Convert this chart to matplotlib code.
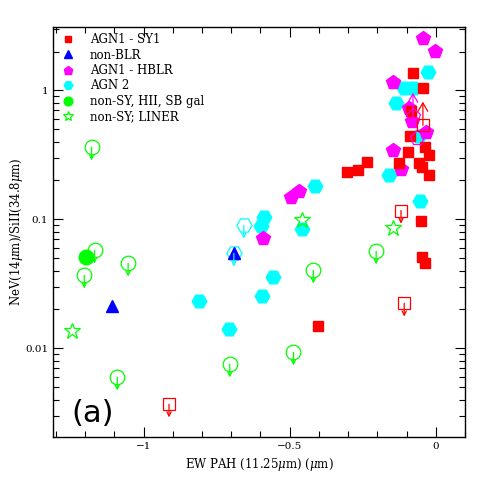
import numpy as np
import matplotlib
matplotlib.use("Agg")
import matplotlib.pyplot as plt
from matplotlib.ticker import FixedLocator, MultipleLocator, LogLocator, NullFormatter

plt.rcParams["font.family"] = ["DejaVu Serif"]
plt.rcParams["mathtext.fontset"] = "dejavuserif"

# AGN1 - SY1 (filled red squares)
sy1_x = [-0.078, -0.044, -0.085, -0.088, -0.094, -0.037, -0.023, -0.126, -0.058,
         -0.047, -0.023, -0.236, -0.266, -0.303, -0.051, -0.047, -0.037, -0.402]
sy1_y = [1.355, 1.04, 0.687, 0.44, 0.33, 0.363, 0.313, 0.272, 0.272,
         0.253, 0.219, 0.277, 0.240, 0.231, 0.0965, 0.0507, 0.0456, 0.0148]
# SY1 upper limits (open squares, arrow down) and lower limit (arrow up)
sy1_ul_x = [-0.119, -0.108, -0.913]
sy1_ul_y = [0.117, 0.0223, 0.00368]
sy1_ll_x = [-0.044]
sy1_ll_y = [0.536]

# non-BLR (blue triangles)
nblr_x = [-1.107, -0.691]
nblr_y = [0.0212, 0.0545]

# AGN1 - HBLR (magenta pentagons)
hblr_x = [-0.044, -0.003, -0.146, -0.092, -0.082, -0.033, -0.146, -0.119,
          -0.467, -0.497, -0.592]
hblr_y = [2.57, 2.01, 1.17, 0.725, 0.575, 0.473, 0.344, 0.244,
          0.165, 0.148, 0.0712]
hblr_ll_x = [-0.078]
hblr_ll_y = [0.629]
hblr_open_x = [-0.065]
hblr_open_y = [0.425]

# AGN 2 (cyan hexagons)
agn2_x = [-0.027, -0.109, -0.078, -0.136, -0.058, -0.160, -0.412, -0.054,
          -0.589, -0.599, -0.457, -0.558, -0.596, -0.811, -0.708]
agn2_y = [1.40, 1.05, 1.05, 0.794, 0.44, 0.219, 0.180, 0.138,
          0.1036, 0.0883, 0.0837, 0.0355, 0.0253, 0.0231, 0.0140]
agn2_ul_x = [-0.657, -0.691]
agn2_ul_y = [0.0898, 0.0545]

# non-SY, HII, SB gal (green circles)
hii_x = [-1.198]
hii_y = [0.0507]
hii_ul_x = [-1.178, -1.168, -1.203, -1.053, -1.090, -0.705, -0.487, -0.419, -0.204]
hii_ul_y = [0.362, 0.0575, 0.0368, 0.0456, 0.00596, 0.00752, 0.00931, 0.0402, 0.0565]

# non-SY; LINER (open green stars)
lin_x = [-1.246, -0.457, -0.146]
lin_y = [0.01355, 0.0982, 0.0851]

RED, BLUE, MAG, CYAN, GREEN = "#ff0000", "#0000ff", "#ff00ff", "#00ffff", "#00ff00"

fig = plt.figure(figsize=(4.91, 4.91), dpi=100)
ax = fig.add_axes([0.108, 0.110, 0.839, 0.835])


def limit_arrows(xs, ys, color, length, head=(0.3, 0.15), lw=0.9):
    # arrows start at the marker centre; positive length points up
    for x, y in zip(xs, ys):
        ax.annotate("", xy=(x, y), xytext=(0, length), textcoords="offset points",
                    arrowprops=dict(arrowstyle="<-, head_length=%g, head_width=%g" % head,
                                    color=color, lw=lw, shrinkA=0, shrinkB=0))


# open (limit) symbols
ax.plot(hii_ul_x, hii_ul_y, "o", ms=10.5, mfc="none", mec=GREEN, mew=0.9, ls="none")
limit_arrows(hii_ul_x, hii_ul_y, GREEN, -9.5)
ax.plot(agn2_ul_x, agn2_ul_y, "H", ms=11, mfc="none", mec=CYAN, mew=0.9, ls="none")
limit_arrows(agn2_ul_x, agn2_ul_y, CYAN, -9.5)
ax.plot(sy1_ul_x, sy1_ul_y, "s", ms=8.5, mfc="none", mec=RED, mew=0.9, ls="none")
limit_arrows(sy1_ul_x, sy1_ul_y, RED, -9.5)

# filled symbols
ax.plot(agn2_x, agn2_y, "H", ms=10.5, color=CYAN, ls="none", label="AGN 2")
ax.plot(hblr_x, hblr_y, "p", ms=10.5, color=MAG, ls="none", label="AGN1 - HBLR")
ax.plot(sy1_x, sy1_y, "s", ms=7.8, color=RED, ls="none", label="AGN1 - SY1")
ax.plot(nblr_x, nblr_y, "^", ms=8.5, color=BLUE, ls="none", label="non-BLR")
ax.plot(hii_x, hii_y, "o", ms=10.5, color=GREEN, ls="none", label="non-SY, HII, SB gal")
ax.plot(lin_x, lin_y, "*", ms=12, mfc="none", mec=GREEN, mew=0.9, ls="none",
        label="non-SY; LINER")

# lower limits in the crowded corner
ax.plot(hblr_ll_x + hblr_open_x, hblr_ll_y + hblr_open_y, "p", ms=11, mfc="none",
        mec=MAG, mew=0.9, ls="none")
limit_arrows(hblr_ll_x, hblr_ll_y, MAG, 17, head=(0.6, 0.35))
ax.plot(sy1_ll_x, sy1_ll_y, "s", ms=8.5, mfc="none", mec=RED, mew=0.9, ls="none")
limit_arrows(sy1_ll_x, sy1_ll_y, RED, 17, head=(0.6, 0.35))

ax.set_yscale("log")
ax.set_xlim(-1.31, 0.1)
ax.set_ylim(0.00205, 3.1)

ax.xaxis.set_major_locator(FixedLocator([-1, -0.5, 0]))
ax.set_xticklabels(["\u22121", "\u22120.5", "0"])
ax.xaxis.set_minor_locator(MultipleLocator(0.1))
ax.yaxis.set_major_locator(FixedLocator([0.01, 0.1, 1]))
ax.set_yticklabels(["0.01", "0.1", "1"])
ax.yaxis.set_minor_locator(LogLocator(base=10, subs=np.arange(2, 10)))
ax.yaxis.set_minor_formatter(NullFormatter())
ax.tick_params(which="both", direction="in", top=True, right=True, labelsize=7.5, width=0.8)
ax.tick_params(which="major", length=7)
ax.tick_params(which="minor", length=4)
for s in ax.spines.values():
    s.set_linewidth(1.0)

ax.set_xlabel(r"EW PAH (11.25$\mu$m) ($\mu$m)", fontsize=8.5, labelpad=4)
ax.set_ylabel(r"NeV(14$\mu$m)/SiII(34.8$\mu$m)", fontsize=8.5, labelpad=0)

ax.text(0.095, 0.058, "(a)", transform=ax.transAxes, fontsize=22,
        family="DejaVu Sans", ha="center", va="center")

h, l = ax.get_legend_handles_labels()
order = ["AGN1 - SY1", "non-BLR", "AGN1 - HBLR", "AGN 2", "non-SY, HII, SB gal", "non-SY; LINER"]
hd = dict(zip(l, h))
ax.legend([hd[k] for k in order], order, loc="upper left", frameon=False,
          markerscale=0.6, fontsize=8.5, handlelength=1.2, handletextpad=1.2,
          labelspacing=0.2, borderaxespad=0.3, bbox_to_anchor=(0.0, 1.005))

fig.savefig("out.png", dpi=100)
